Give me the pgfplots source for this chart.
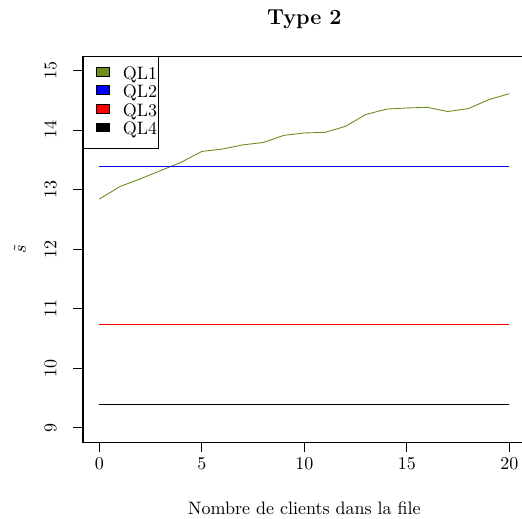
\documentclass[border=0pt]{standalone}
\usepackage{pgfplots}
\pgfplotsset{compat=1.18}
\definecolor{qlgreen}{RGB}{107,142,35}
\begin{document}
\begin{tikzpicture}
\useasboundingbox (-46.1pt,-42.2pt) rectangle (243.9pt,245.6pt);
\begin{axis}[
  scale only axis, width=246pt, height=214.4pt,
  xmin=-0.8, xmax=20.8, ymin=8.76, ymax=15.24,
  xtick={0,5,10,15,20}, ytick={9,10,11,12,13,14,15},
  xtick pos=bottom, ytick pos=left, tick align=outside, major tick length=5.5pt,
  tick style={black, line width=0.5pt},
  axis line style={line width=0.6pt},
  xticklabel style={anchor=north, inner sep=0pt, yshift=-3pt},
  yticklabel style={rotate=90, anchor=south, inner sep=0pt, yshift=9.1pt},
  title={Type 2},
  title style={at={(axis description cs:0.5,1)}, anchor=center, yshift=14.3pt, font=\large\bfseries},
  xlabel={Nombre de clients dans la file},
  xlabel style={at={(axis description cs:0.5,0)}, anchor=center, yshift=-36.7pt},
  ylabel={$\tilde{s}$},
  ylabel style={at={(axis description cs:0,0.5)}, anchor=center, yshift=35pt},
  legend style={at={(axis description cs:0,1)}, anchor=north west, draw=black, line width=0.5pt,
    inner xsep=0pt, inner ysep=5pt, font=\normalsize,
    nodes={inner sep=0.5pt, text height=7pt, text depth=2.3pt}, row sep=0pt},
  /tikz/every odd column/.append style={column sep=7.1pt},
  legend cell align=left,
]
\addlegendimage{legend image code/.code={\path (0pt,0pt); \draw[black, fill=qlgreen, line width=0.4pt] (7.1pt,-0.6pt) rectangle (13.9pt,4.2pt);}}
\addlegendentry{QL1}
\addlegendimage{legend image code/.code={\path (0pt,0pt); \draw[black, fill=blue, line width=0.4pt] (7.1pt,-0.6pt) rectangle (13.9pt,4.2pt);}}
\addlegendentry{QL2}
\addlegendimage{legend image code/.code={\path (0pt,0pt); \draw[black, fill=red, line width=0.4pt] (7.1pt,-0.6pt) rectangle (13.9pt,4.2pt);}}
\addlegendentry{QL3}
\addlegendimage{legend image code/.code={\path (0pt,0pt); \draw[black, fill=black, line width=0.4pt] (7.1pt,-0.6pt) rectangle (13.9pt,4.2pt);}}
\addlegendentry{QL4}
\addplot[qlgreen, line width=0.5pt, forget plot] coordinates {
(0,12.84) (1,13.05) (2,13.18) (3,13.32) (4,13.46) (5,13.64) (6,13.68) (7,13.75)
(8,13.79) (9,13.91) (10,13.95) (11,13.96) (12,14.06) (13,14.26) (14,14.35)
(15,14.37) (16,14.38) (17,14.31) (18,14.36) (19,14.51) (20,14.61)};
\addplot[blue, line width=0.5pt, forget plot] coordinates {(0,13.39) (20,13.39)};
\addplot[red, line width=0.5pt, forget plot] coordinates {(0,10.73) (20,10.73)};
\addplot[black, line width=0.5pt, forget plot] coordinates {(0,9.40) (20,9.40)};
\end{axis}
\end{tikzpicture}
\end{document}
